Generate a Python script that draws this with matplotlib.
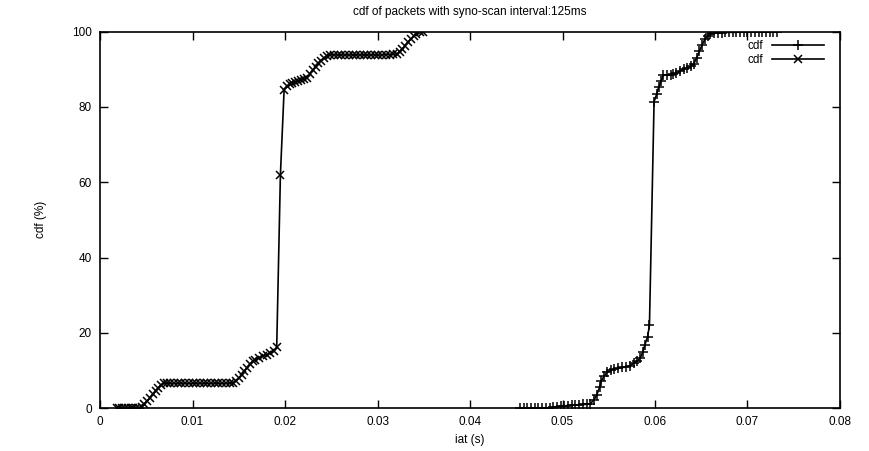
import matplotlib
matplotlib.use("Agg")
import matplotlib.pyplot as plt

# cdf values: iat (s) vs cdf (%)
# series drawn with '+' markers (right-hand curve)
iat_plus = [0.0454, 0.0458, 0.0462, 0.0466, 0.0470, 0.0474, 0.0478, 0.0482, 0.0486,
            0.0490, 0.0494, 0.0498, 0.0502, 0.0506, 0.0510, 0.0514, 0.0518, 0.0522,
            0.0526, 0.0530, 0.0534, 0.0537, 0.0540, 0.0542, 0.0545, 0.0548, 0.0552,
            0.0556, 0.0560, 0.0564, 0.0569, 0.0573, 0.0577, 0.0581, 0.0584, 0.0587,
            0.0589, 0.0592, 0.0594, 0.0599, 0.0602, 0.0604, 0.0607,
            0.0609, 0.0613, 0.0617, 0.0620, 0.0623, 0.0627, 0.0631, 0.0635, 0.0639,
            0.0642, 0.0645, 0.0648, 0.0651, 0.0654, 0.0657, 0.0660, 0.0664, 0.0668,
            0.0672, 0.0676, 0.0680, 0.0684, 0.0688, 0.0692, 0.0696, 0.0700, 0.0704,
            0.0708, 0.0712, 0.0716, 0.0720, 0.0724, 0.0728, 0.0732]
cdf_plus = [0.0, 0.0, 0.0, 0.0, 0.0, 0.0, 0.0, 0.0, 0.1,
            0.3, 0.4, 0.5, 0.6, 0.7, 0.8, 0.8, 0.9, 1.0,
            1.0, 1.2, 2.2, 3.5, 5.5, 7.3, 8.5, 9.5, 10.0,
            10.4, 10.6, 10.8, 10.9, 11.3, 11.9, 12.6, 13.3, 15.0,
            16.8, 19.0, 22.0, 81.4, 83.5, 85.3, 87.0,
            88.5, 88.5, 88.6, 88.7, 89.0, 89.5, 90.0, 90.4, 90.8,
            91.5, 93.0, 94.8, 96.5, 98.0, 98.8, 99.3, 99.6, 99.7,
            99.7, 99.8, 99.8, 99.8, 99.8, 99.9, 99.9, 99.9, 99.9,
            99.9, 100.0, 100.0, 100.0, 100.0, 100.0, 100.0]

# series drawn with 'x' markers (left-hand curve)
iat_cross = [0.0018, 0.0021, 0.0024, 0.0027, 0.0030, 0.0033, 0.0036, 0.0039, 0.0042,
             0.0045, 0.0048, 0.0051, 0.0054, 0.0057, 0.0060, 0.0063, 0.0066, 0.0069,
             0.0072, 0.0076, 0.0080, 0.0084, 0.0088, 0.0092, 0.0096, 0.0100, 0.0104,
             0.0108, 0.0112, 0.0116, 0.0120, 0.0124, 0.0128, 0.0132, 0.0136, 0.0140,
             0.0144, 0.0147, 0.0150, 0.0153, 0.0156, 0.0159, 0.0162, 0.0165, 0.0168,
             0.0172, 0.0176, 0.0180, 0.0184, 0.0188, 0.0191, 0.0195, 0.0199, 0.0202,
             0.0205, 0.0208, 0.0211, 0.0214, 0.0217, 0.0220, 0.0224, 0.0227, 0.0230,
             0.0233, 0.0236, 0.0239, 0.0242, 0.0245, 0.0249, 0.0253, 0.0257, 0.0261,
             0.0265, 0.0269, 0.0273, 0.0277, 0.0281, 0.0285, 0.0289, 0.0293, 0.0297,
             0.0301, 0.0305, 0.0309, 0.0313, 0.0317, 0.0321, 0.0324, 0.0327, 0.0330,
             0.0333, 0.0336, 0.0339, 0.0342, 0.0346, 0.0349]
cdf_cross = [0.0, 0.0, 0.0, 0.0, 0.0, 0.0, 0.0, 0.0, 0.1,
             0.3, 1.0, 1.9, 2.8, 3.7, 4.5, 5.4, 6.2, 6.6,
             6.6, 6.6, 6.6, 6.6, 6.6, 6.6, 6.6, 6.6, 6.6,
             6.6, 6.6, 6.6, 6.6, 6.6, 6.6, 6.6, 6.6, 6.7,
             6.8, 7.2, 8.0, 8.9, 9.8, 10.7, 11.6, 12.4, 12.9,
             13.4, 13.8, 14.2, 14.6, 15.1, 16.2, 62.0, 84.5, 85.5,
             86.0, 86.3, 86.6, 86.9, 87.2, 87.5, 87.8, 88.8, 89.8,
             90.7, 91.6, 92.3, 92.9, 93.4, 93.8, 93.8, 93.8, 93.8,
             93.8, 93.8, 93.8, 93.8, 93.8, 93.8, 93.8, 93.8, 93.8,
             93.8, 93.8, 93.9, 93.9, 94.0, 94.1, 94.6, 95.4, 96.3,
             97.2, 98.0, 98.8, 99.4, 99.8, 100.0]

xticks = [0, 0.01, 0.02, 0.03, 0.04, 0.05, 0.06, 0.07, 0.08]
xtick_labels = ['0', '0.01', '0.02', '0.03', '0.04', '0.05', '0.06', '0.07', '0.08']
yticks = [0, 20, 40, 60, 80, 100]

plt.rcParams['font.family'] = ['Liberation Sans', 'DejaVu Sans']

fig = plt.figure(figsize=(8.7, 4.51), dpi=100)
ax = fig.add_axes([0.115, 0.095, 0.8505, 0.835])

ax.plot(iat_plus, cdf_plus, color='black', lw=1.2, marker='+', ms=7, mew=1.1, label='cdf')
ax.plot(iat_cross, cdf_cross, color='black', lw=1.2, marker='x', ms=5.5, mew=1.1, label='cdf')

ax.set_xlim(0, 0.08)
ax.set_ylim(0, 100)
ax.set_xticks(xticks)
ax.set_xticklabels(xtick_labels)
ax.set_yticks(yticks)
ax.tick_params(direction='in', length=6, width=1, top=True, right=True, labelsize=8.5, pad=6)
for s in ax.spines.values():
    s.set_linewidth(1.2)

ax.set_title('cdf of packets with syno-scan interval:125ms', fontsize=8.5, pad=12)
ax.set_xlabel('iat (s)', fontsize=8.5, labelpad=4)
ax.set_ylabel('cdf (%)', fontsize=8.5, labelpad=18)

ax.legend(loc='upper right', bbox_to_anchor=(0.993, 1.005), frameon=False, markerfirst=False,
          numpoints=1, handlelength=4.4, fontsize=8.5, labelspacing=0.15, handletextpad=0.8)

fig.savefig('out.png', dpi=100, facecolor='white')
